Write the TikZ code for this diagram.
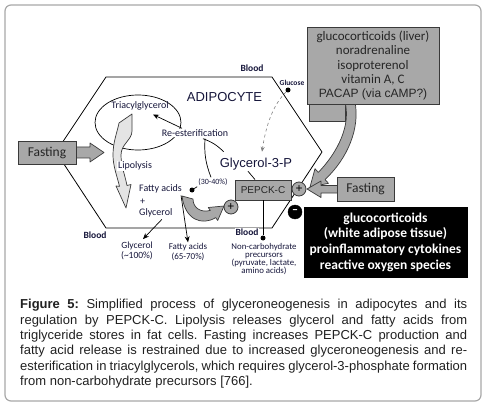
\documentclass[tikz,border=0pt]{standalone}
\usepackage{fontspec}
\setmainfont{Carlito}
\newfontfamily\arialf{Liberation Sans}
\usetikzlibrary{arrows.meta,calc}
\definecolor{txt}{HTML}{15153A}
\definecolor{boxgray}{HTML}{A8A8A8}
\definecolor{lightg}{HTML}{E4E4E4}
\definecolor{edgegray}{HTML}{3A3A3A}
\definecolor{framegray}{HTML}{A8A8A8}
\definecolor{captxt}{HTML}{202020}
\begin{document}
\frenchspacing
\begin{tikzpicture}[x=1pt,y=-1pt,
  lbl/.style={font=\fontsize{10}{11}\selectfont, text=txt, inner sep=1pt},
  bloodlbl/.style={font=\bfseries\fontsize{9.5}{10}\selectfont, text=txt, inner sep=1pt},
  gbox/.style={draw=edgegray, fill=boxgray, line width=0.9pt, inner sep=1pt, text=black!85},
  blockarrow/.style={draw=edgegray, fill=boxgray, line width=0.7pt, line join=round},
  lightarrow/.style={draw=edgegray, fill=lightg, line width=0.7pt, line join=round},
  conn/.style={line width=0.7pt, black},
  tipst/.style={-{Stealth[length=6pt,width=5pt]}},
  dotst/.style={circle, fill=black, inner sep=0pt, minimum size=5pt},
  pcirc/.style={circle, draw=edgegray, fill=boxgray, line width=0.8pt, minimum size=14pt, inner sep=0pt, font=\arialf\fontsize{12}{12}\selectfont},
  mcirc/.style={circle, draw=black, fill=black, minimum size=14pt, inner sep=0pt, text=white, font=\bfseries\fontsize{12}{12}\selectfont}]
\useasboundingbox (0,0) rectangle (484,406);
% frame
\draw[framegray, line width=1.2pt, rounded corners=6pt] (5,5) rectangle (481,401);
% cell
\draw[line width=0.8pt] (106,77) -- (272,77) -- (322,152) -- (272,228) -- (106,228) -- (56,152) -- cycle;
\draw[line width=0.7pt] (138,122.5) ellipse [x radius=43pt, y radius=27.5pt];
% lipolysis arrow
\draw[lightarrow] (119,123) -- (132,114) -- (132,131) .. controls (132,140) and (121,144) .. (121,155)
  .. controls (121,166) and (125,175) .. (127,185.5) -- (131,184.5) -- (126,208) -- (116,186)
  -- (119.5,186.3) .. controls (117,176) and (113,166) .. (113,155)
  .. controls (113,142) and (117,133) .. (119,123) -- cycle;
% bottom gray curved arrow
\draw[blockarrow] (182,196) -- (193,199) .. controls (193,208) and (201,213) .. (210.3,210.4)
  -- (208.3,207.5) -- (224,206) -- (217.7,220.5) -- (215.7,217.6)
  .. controls (202,226) and (185,220) .. (182,196) -- cycle;
% left fasting arrow
\draw[blockarrow] (72,147) -- (90,147) -- (90,143) -- (104,152.5) -- (90,162) -- (90,158) -- (72,158) -- cycle;
% stem under top box
\draw[gbox] (309,100) rectangle (345,121);
% curvy arrow from top box
\draw[blockarrow] (345,102) .. controls (351,125) and (338,152) .. (318.3,172.4) -- (315,168.7) -- (310,187)
  -- (328.5,183.3) -- (325,179.6) .. controls (348,158) and (360,128) .. (355,102) -- cycle;
% right fasting arrow
\draw[blockarrow] (340,185.5) -- (321,185.5) -- (321,181) -- (307,189) -- (321,197.5) -- (321,193) -- (340,193) -- cycle;

% boxes
\node[gbox, minimum width=132pt, minimum height=77pt, align=center, font=\fontsize{13}{14.3}\selectfont] (reg) at (373,65.5)
  {glucocorticoids (liver)\\noradrenaline\\isoproterenol\\vitamin A, C\\{\arialf\fontsize{12}{14.3}\selectfont PACAP (via cAMP?)}};
\node[gbox, minimum width=58pt, minimum height=23pt, font=\fontsize{13.5}{14}\selectfont] (fl) at (47,152.5) {Fasting};
\node[gbox, minimum width=57pt, minimum height=24pt, font=\fontsize{13.5}{14}\selectfont] (fr) at (365.5,189) {Fasting};
\node[gbox, minimum width=56pt, minimum height=20pt, font=\arialf\fontsize{10}{12}\selectfont] (pepck) at (263,190) {PEPCK-C};
\node[draw=black, fill=black, text=white, minimum width=163pt, minimum height=70pt, align=center,
  font=\bfseries\fontsize{13.5}{15.7}\selectfont] (neg) at (385.5,242)
  {glucocorticoids\\(white adipose tissue)\\proinflammatory cytokines\\reactive oxygen species};

% labels
\node[lbl, font=\arialf\fontsize{13}{14}\selectfont] (adi) at (224.5,97) {ADIPOCYTE};
\node[lbl, font=\arialf\fontsize{13}{14}\selectfont] (g3p) at (256,164) {Glycerol-3-P};
\node[bloodlbl] (bt) at (252,68) {Blood};
\node[bloodlbl] (bl) at (95,235) {Blood};
\node[bloodlbl, fill=white] (br) at (247,232) {Blood};
\node[lbl, font=\bfseries\fontsize{7.5}{8}\selectfont] (glctxt) at (292,83) {Glucose};
\node[dotst] (glc) at (288,90) {};
\node[lbl] (tag) at (140,106) {Triacylglycerol};
\node[lbl, fill=white] (re) at (195,133) {Re-esterification};
\node[lbl, fill=white] (lip) at (135,166) {Lipolysis};
\node[lbl, anchor=west] (fa) at (138,189) {Fatty acids};
\node[lbl, anchor=west] (pl) at (139,202) {+};
\node[lbl, anchor=west] (gly) at (138,213) {Glycerol};
\node[lbl, font=\fontsize{8}{9}\selectfont] (pct) at (213,182) {(30-40\%)};
\node[dotst] (dfa) at (192,190) {};
\node[lbl, align=center, font=\fontsize{9.5}{9.5}\selectfont] (gl2) at (137,251) {Glycerol\\(\textasciitilde100\%)};
\node[lbl, align=center, font=\fontsize{9}{9.5}\selectfont] (fa2) at (188,252) {Fatty acids\\(65-70\%)};
\node[lbl, align=center, font=\fontsize{8.8}{8}\selectfont] (nc) at (264,259) {Non-carbohydrate\\precursors\\(pyruvate, lactate,\\amino acids)};
\node[dotst] (dnc) at (263,238) {};
\node[pcirc] (p1) at (231,207) {+};
\node[pcirc] (p2) at (299,189) {+};
\node[mcirc] (m1) at (295,212) {\raisebox{0.5pt}{–}};

% connectors
\draw[conn, tipst] ($(re.north)+(-13,0)$) -- ($(tag.south)+(13,3)$);
\draw[conn] ($(re.south)+(8,1)$) to[bend left=12] ($(g3p.north west)+(5,-5)$);
\draw[conn] ($(re.south)+(10,1)$) to[bend right=12] ($(pct.north)+(-2,0)$);
\draw[conn] (dfa) -- (pct.south west);
\draw[conn] ($(g3p.south)+(-8,0)$) -- ($(pepck.north)+(-8,0)$);
\draw[conn] (pepck.south) -- (dnc);
\draw[line width=0.6pt, gray, dashed, -{Stealth[length=5pt,width=4pt]}] (glc) .. controls (273,105) and (266,125) .. ($(g3p.north)+(6,-5)$);
\draw[conn, tipst] ($(fa.south east)+(-2,1)$) -- (fa2.north);
\draw[conn, tipst] ($(gly.south)+(6,1)$) -- ($(gl2.north)+(6,-2)$);

% caption
\node[anchor=north west, inner sep=0pt, text width=447pt, align=justify, text=captxt,
  font=\arialf\fontsize{13}{15.4}\selectfont] (cap) at (20,299)
  {\textbf{Figure 5:} Simplified process of glyceroneogenesis in adipocytes and its\linebreak
  regulation by PEPCK-C. Lipolysis releases glycerol and fatty acids from\linebreak
  triglyceride stores in fat cells. Fasting increases PEPCK-C production and\linebreak
  fatty acid release is restrained due to increased glyceroneogenesis and re-\linebreak
  esterification in triacylglycerols, which requires glycerol-3-phosphate formation\linebreak
  from non-carbohydrate precursors [766].};
\end{tikzpicture}
\end{document}
